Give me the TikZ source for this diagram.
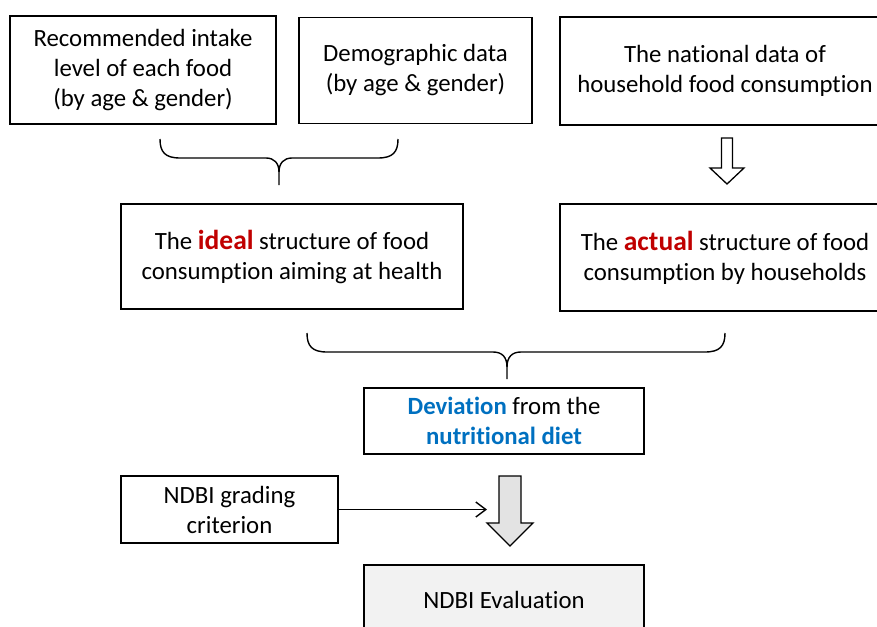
\documentclass[tikz,border=0pt]{standalone}
\usepackage{fontspec}
\setmainfont{Carlito}[RawFeature={-liga;-clig}]
\usetikzlibrary{arrows.meta}
\definecolor{hlred}{HTML}{C00000}
\definecolor{hlblue}{HTML}{0070C0}
\definecolor{evalgray}{HTML}{F2F2F2}
\definecolor{arrgray}{HTML}{E3E3E3}
\newcommand{\redword}[1]{{\fontsize{27.5}{30}\selectfont\textcolor{hlred}{\textbf{#1}}}}
\begin{document}
\begin{tikzpicture}[x=1pt,y=-1pt,
  box/.style={draw=black,line width=1.4pt,rectangle,align=center,inner sep=0pt,
    font=\fontsize{24.8}{30}\selectfont},
  brace/.style={draw=black,line width=1.4pt},
  bigarrow/.style={draw=black,line width=1.3pt,line join=miter}]
\useasboundingbox (0,0) rectangle (877,626);
\clip (0,0) rectangle (877,626);
\node[box,minimum width=266pt,minimum height=108pt] (rec) at (143,70) {Recommended intake\\level of each food\\(by age \& gender)};
\node[box,minimum width=233pt,minimum height=106pt] (demo) at (415.5,70.5) {Demographic data\\(by age \& gender)};
\node[box,minimum width=330pt,minimum height=108pt] (nat) at (725,71) {The national data of\\household food consumption};
\node[box,minimum width=342pt,minimum height=105pt] (ideal) at (292,256.5) {The \redword{ideal} structure of food\\consumption aiming at health};
\node[box,minimum width=330pt,minimum height=107pt] (actual) at (725,257.5) {The \redword{actual} structure of food\\consumption by households};
\node[box,minimum width=280pt,minimum height=66pt] (dev) at (504,421) {\textcolor{hlblue}{\textbf{Deviation}} from the\\\textcolor{hlblue}{\textbf{nutritional diet}}};
\node[box,minimum width=217pt,minimum height=67pt] (grad) at (229.5,509.5) {NDBI grading\\criterion};
\node[box,fill=evalgray,minimum width=280pt,minimum height=70pt] (eval) at (504,600) {NDBI Evaluation};
% brace 1
\coordinate (b1l) at (160,139);
\coordinate (b1r) at (398,139);
\coordinate (b1t) at (279,185);
\draw[brace] (b1l) .. controls (160,152) and (165,158) .. (180,158) -- (266,158)
  .. controls (274,158) and (279,163) .. (279,172) -- (b1t);
\draw[brace] (b1r) .. controls (398,152) and (393,158) .. (378,158) -- (292,158)
  .. controls (284,158) and (279,163) .. (279,172);
% brace 2
\coordinate (b2l) at (307,333);
\coordinate (b2r) at (725,333);
\coordinate (b2t) at (507,379);
\draw[brace] (b2l) .. controls (307,346) and (312,352) .. (327,352) -- (493,352)
  .. controls (502,352) and (507,357) .. (507,367) -- (b2t);
\draw[brace] (b2r) .. controls (725,346) and (720,352) .. (705,352) -- (521,352)
  .. controls (512,352) and (507,357) .. (507,367);
% hollow arrow
\draw[bigarrow,fill=white] (721.5,138) -- (732.5,138) -- (732.5,168) -- (744,168) -- (727,184) -- (710,168) -- (721.5,168) -- cycle;
% gray arrow
\draw[bigarrow,fill=arrgray] (499,476) -- (521,476) -- (521,523) -- (533,523) -- (510,546) -- (487,523) -- (499,523) -- cycle;
% grading arrow
\coordinate (garr) at (487,509.5);
\draw[line width=1.4pt,-{Straight Barb[length=10pt,width=15pt,line width=1.4pt]}] (grad.east) -- (garr);
\end{tikzpicture}
\end{document}
